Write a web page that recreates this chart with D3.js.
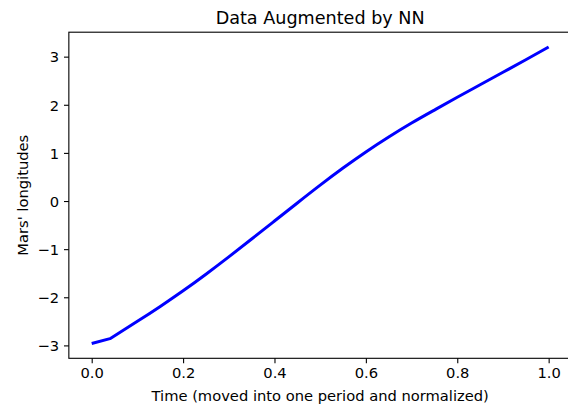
<!DOCTYPE html>
<html>
<head>
<meta charset="utf-8">
<script src="https://cdn.jsdelivr.net/npm/d3@7"></script>
<style>
  html, body { margin: 0; padding: 0; background: #fff; overflow: hidden; }
  svg { display: block; font-family: "DejaVu Sans", sans-serif; }
</style>
</head>
<body>
<svg id="chart" width="568" height="411"></svg>
<script>
// ---- data ----
const timeValues = [0, 0.04, 0.1, 0.15, 0.2, 0.25, 0.3, 0.35, 0.4, 0.45, 0.5, 0.55, 0.6, 0.65, 0.7, 0.75, 0.8, 0.85, 0.9, 0.95, 1.0];
const longitudeValues = [-2.96, -2.86, -2.50, -2.19, -1.865, -1.52, -1.16, -0.79, -0.415, -0.04, 0.33, 0.685, 1.02, 1.33, 1.62, 1.89, 2.155, 2.415, 2.675, 2.935, 3.20];
const xTicks = [0.0, 0.2, 0.4, 0.6, 0.8, 1.0];
const yTicks = [-3, -2, -1, 0, 1, 2, 3];
const titleText = "Data Augmented by NN";
const xLabelText = "Time (moved into one period and normalized)";
const yLabelText = "Mars' longitudes";

// ---- layout ----
const svg = d3.select("#chart");
const mLeft = 68.85, mRight = 571.5, mTop = 32.2, mBottom = 358.3;

const xExt = d3.extent(timeValues), yExt = d3.extent(longitudeValues);
const xm = (xExt[1] - xExt[0]) * 0.05, ym = (yExt[1] - yExt[0]) * 0.05;
const x = d3.scaleLinear().domain([xExt[0] - xm, xExt[1] + xm]).range([mLeft, mRight]);
const y = d3.scaleLinear().domain([yExt[0] - ym, yExt[1] + ym]).range([mBottom, mTop]);

const tickLen = 4.86, pad = 4.86, fs = 14.7;

// line: straight first segment (kink), smooth afterwards
const data = timeValues.map((t, i) => [t, longitudeValues[i]]);
const head = d3.line().x(d => x(d[0])).y(d => y(d[1]))(data.slice(0, 2));
const tail = d3.line().x(d => x(d[0])).y(d => y(d[1])).curve(d3.curveNatural)(data.slice(1));
svg.append("path")
  .attr("fill", "none")
  .attr("stroke", "#0000ff")
  .attr("stroke-width", 3)
  .attr("stroke-linejoin", "round")
  .attr("stroke-linecap", "butt")
  .attr("d", head + "L" + tail.slice(1));

// x axis
const xAxis = d3.axisBottom(x).tickValues(xTicks).tickFormat(d3.format(".1f"))
  .tickSize(tickLen).tickPadding(pad);
const gx = svg.append("g").attr("transform", `translate(0,${mBottom})`).call(xAxis);
gx.select(".domain").remove();
gx.selectAll(".tick line").attr("stroke", "#000").attr("stroke-width", 1.1);
gx.selectAll(".tick text").attr("font-size", fs).attr("fill", "#000")
  .attr("font-family", "DejaVu Sans");

// y axis
const yAxis = d3.axisLeft(y).tickValues(yTicks).tickFormat(d3.format("d"))
  .tickSize(tickLen).tickPadding(pad);
const gy = svg.append("g").attr("transform", `translate(${mLeft},0)`).call(yAxis);
gy.select(".domain").remove();
gy.selectAll(".tick line").attr("stroke", "#000").attr("stroke-width", 1.1);
gy.selectAll(".tick text").attr("font-size", fs).attr("fill", "#000")
  .attr("font-family", "DejaVu Sans").attr("dy", "0.36em");

// spines
svg.append("rect")
  .attr("x", mLeft).attr("y", mTop)
  .attr("width", mRight - mLeft).attr("height", mBottom - mTop)
  .attr("fill", "none").attr("stroke", "#000").attr("stroke-width", 1.1);

// title
svg.append("text")
  .attr("x", (mLeft + mRight) / 2).attr("y", 24)
  .attr("text-anchor", "middle").attr("font-size", 17.6).attr("fill", "#000")
  .text(titleText);

// x label
svg.append("text")
  .attr("x", (mLeft + mRight) / 2).attr("y", 401)
  .attr("text-anchor", "middle").attr("font-size", fs).attr("fill", "#000")
  .text(xLabelText);

// y label
svg.append("text")
  .attr("transform", `translate(27.5,${(mTop + mBottom) / 2}) rotate(-90)`)
  .attr("text-anchor", "middle").attr("font-size", fs).attr("fill", "#000")
  .text(yLabelText);
</script>
</body>
</html>
